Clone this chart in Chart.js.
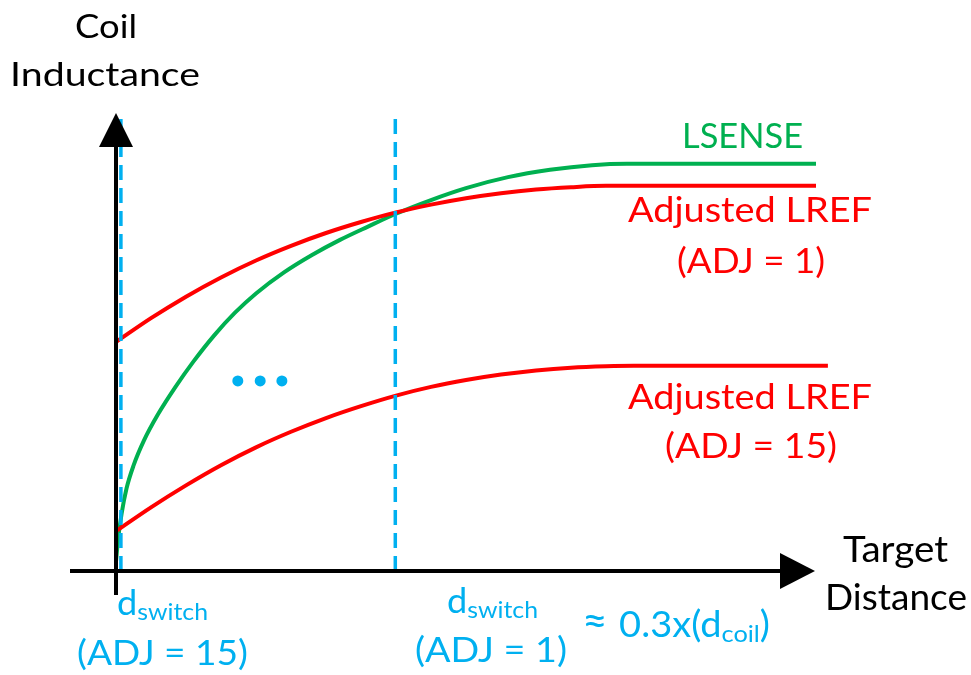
<!DOCTYPE html>
<html>
<head>
<meta charset="utf-8">
<script src="https://cdn.jsdelivr.net/npm/chart.js@4/dist/chart.umd.min.js"></script>
<style>
  body { margin: 0; background: #fff; }
  canvas { display: block; }
</style>
</head>
<body>
<canvas id="myChart" width="971" height="675"></canvas>
<script>
// curve values (distance 0..10, inductance 0..10)
const lsenseX = [0, 0.03, 0.08, 0.15, 0.25, 0.4, 0.6, 0.85, 1.1, 1.4, 1.7, 2.0, 2.4, 2.8, 3.2, 3.6, 4.0, 4.5, 5.0, 5.6, 6.2, 6.8, 7.3, 10.0];
const lsenseY = [0.2, 0.7, 1.25, 1.8, 2.3, 2.85, 3.42, 4.02, 4.56, 5.14, 5.64, 6.06, 6.52, 6.9, 7.23, 7.52, 7.8, 8.1, 8.36, 8.6, 8.76, 8.86, 8.89, 8.89];

const lref1X = [0, 0.5, 1.0, 1.5, 2.0, 2.5, 3.0, 3.5, 4.0, 4.5, 5.0, 5.5, 6.0, 6.5, 7.0, 10.0];
const lref1Y = [5.0, 5.52, 5.99, 6.41, 6.78, 7.1, 7.38, 7.62, 7.83, 8.0, 8.14, 8.25, 8.33, 8.38, 8.41, 8.41];

const lref15X = [0, 0.5, 1.0, 1.5, 2.0, 2.5, 3.0, 3.5, 4.0, 4.5, 5.0, 5.5, 6.0, 6.5, 7.0, 7.4, 10.17];
const lref15Y = [0.87, 1.39, 1.87, 2.31, 2.7, 3.04, 3.34, 3.6, 3.83, 4.02, 4.17, 4.29, 4.38, 4.44, 4.47, 4.48, 4.48];

// dswitch markers (ADJ = 15, ADJ = 1)
const switchX = [0.07, 3.99];
const switchTop = 9.89;

// the "..." between the two LREF curves
const dotsX = [1.74, 2.06, 2.37];
const dotsY = [4.15, 4.15, 4.15];

const GREEN = "#00B050";
const RED = "#FF0000";
const BLUE = "#00B0F0";

function pts(xs, ys) {
  return xs.map((x, i) => ({ x: x, y: ys[i] }));
}

function fitText(ctx, str, left, base, width, size, color) {
  ctx.font = size + "px Lato";
  const w = ctx.measureText(str).width;
  ctx.save();
  ctx.translate(left, base);
  ctx.scale(width / w, 1);
  ctx.fillStyle = color;
  ctx.textBaseline = "alphabetic";
  ctx.fillText(str, 0, 0);
  ctx.restore();
}

// runs: [text, size, baseline shift]
function fitRuns(ctx, runs, left, base, width, color) {
  let total = 0;
  for (const r of runs) {
    ctx.font = r[1] + "px Lato";
    total += ctx.measureText(r[0]).width;
  }
  const k = width / total;
  ctx.save();
  ctx.translate(left, base);
  ctx.scale(k, 1);
  ctx.fillStyle = color;
  ctx.textBaseline = "alphabetic";
  let x = 0;
  for (const r of runs) {
    ctx.font = r[1] + "px Lato";
    ctx.fillText(r[0], x, r[2]);
    x += ctx.measureText(r[0]).width;
  }
  ctx.restore();
}

const axesPlugin = {
  id: "axes",
  afterDatasetsDraw(chart) {
    const ctx = chart.ctx;
    const xs = chart.scales.x;
    const ys = chart.scales.y;
    const x0 = xs.getPixelForValue(0);
    const y0 = ys.getPixelForValue(0);
    const top = chart.chartArea.top;

    ctx.save();
    ctx.strokeStyle = "#000";
    ctx.fillStyle = "#000";
    ctx.lineWidth = 4;
    // y axis
    ctx.beginPath();
    ctx.moveTo(x0, y0 + 24);
    ctx.lineTo(x0, top + 30);
    ctx.stroke();
    ctx.beginPath();
    ctx.moveTo(x0, top);
    ctx.lineTo(x0 - 17, top + 34);
    ctx.lineTo(x0 + 17, top + 34);
    ctx.closePath();
    ctx.fill();
    // x axis
    const tip = x0 + 699;
    ctx.beginPath();
    ctx.moveTo(x0 - 46, y0);
    ctx.lineTo(tip - 30, y0);
    ctx.stroke();
    ctx.beginPath();
    ctx.moveTo(tip, y0);
    ctx.lineTo(tip - 35, y0 - 18);
    ctx.lineTo(tip - 35, y0 + 18);
    ctx.closePath();
    ctx.fill();
    ctx.restore();

    // labels
    fitText(ctx, "Coil", 75, 38, 62, 33, "#000");
    fitText(ctx, "Inductance", 10, 86, 190, 33, "#000");
    fitText(ctx, "Target", 843, 562, 105, 36, "#000");
    fitText(ctx, "Distance", 825, 610, 142, 36, "#000");

    fitText(ctx, "LSENSE", 682, 148, 121, 35, GREEN);
    fitText(ctx, "Adjusted LREF", 628, 222, 244, 35, RED);
    fitText(ctx, "(ADJ = 1)", 677, 273, 148, 35, RED);
    fitText(ctx, "Adjusted LREF", 628, 409, 244, 35, RED);
    fitText(ctx, "(ADJ = 15)", 665, 458, 172, 35, RED);

    fitRuns(ctx, [["d", 35, 0], ["switch", 24, 5]], 117, 615, 91, BLUE);
    fitText(ctx, "(ADJ = 15)", 77, 665, 171, 35, BLUE);
    fitRuns(ctx, [["d", 35, 0], ["switch", 24, 5]], 447, 613, 91, BLUE);
    fitText(ctx, "(ADJ = 1)", 415, 662, 152, 35, BLUE);
    fitRuns(ctx, [["\u2248 ", 42, -2], ["0.3x(d", 36, 0], ["coil", 24, 5], [")", 36, 0]], 582, 637, 188, BLUE);
  },
};

const curve = (data, color) => ({
  data: data,
  borderColor: color,
  borderWidth: 4,
  pointRadius: 0,
  cubicInterpolationMode: "monotone",
  clip: false,
  fill: false,
});

const dashed = (x) => ({
  data: [{ x: x, y: 0 }, { x: x, y: switchTop }],
  borderColor: BLUE,
  borderWidth: 3.5,
  borderDash: [15, 8],
  pointRadius: 0,
  clip: false,
});

const ctx = document.getElementById("myChart");

new Chart(ctx, {
  type: "line",
  data: {
    datasets: [
      dashed(switchX[0]),
      dashed(switchX[1]),
      {
        data: pts(dotsX, dotsY),
        showLine: false,
        pointRadius: 5.5,
        pointStyle: "circle",
        pointBackgroundColor: BLUE,
        pointBorderWidth: 0,
      },
      curve(pts(lref1X, lref1Y), RED),
      curve(pts(lref15X, lref15Y), RED),
      curve(pts(lsenseX, lsenseY), GREEN),
    ],
  },
  options: {
    responsive: false,
    animation: false,
    devicePixelRatio: 1,
    layout: { padding: { left: 116, top: 113, right: 141, bottom: 104 } },
    plugins: { legend: { display: false }, tooltip: { enabled: false } },
    scales: {
      x: { type: "linear", min: 0, max: 10.2, display: false },
      y: { min: 0, max: 10, display: false },
    },
  },
  plugins: [axesPlugin],
});
</script>
</body>
</html>
